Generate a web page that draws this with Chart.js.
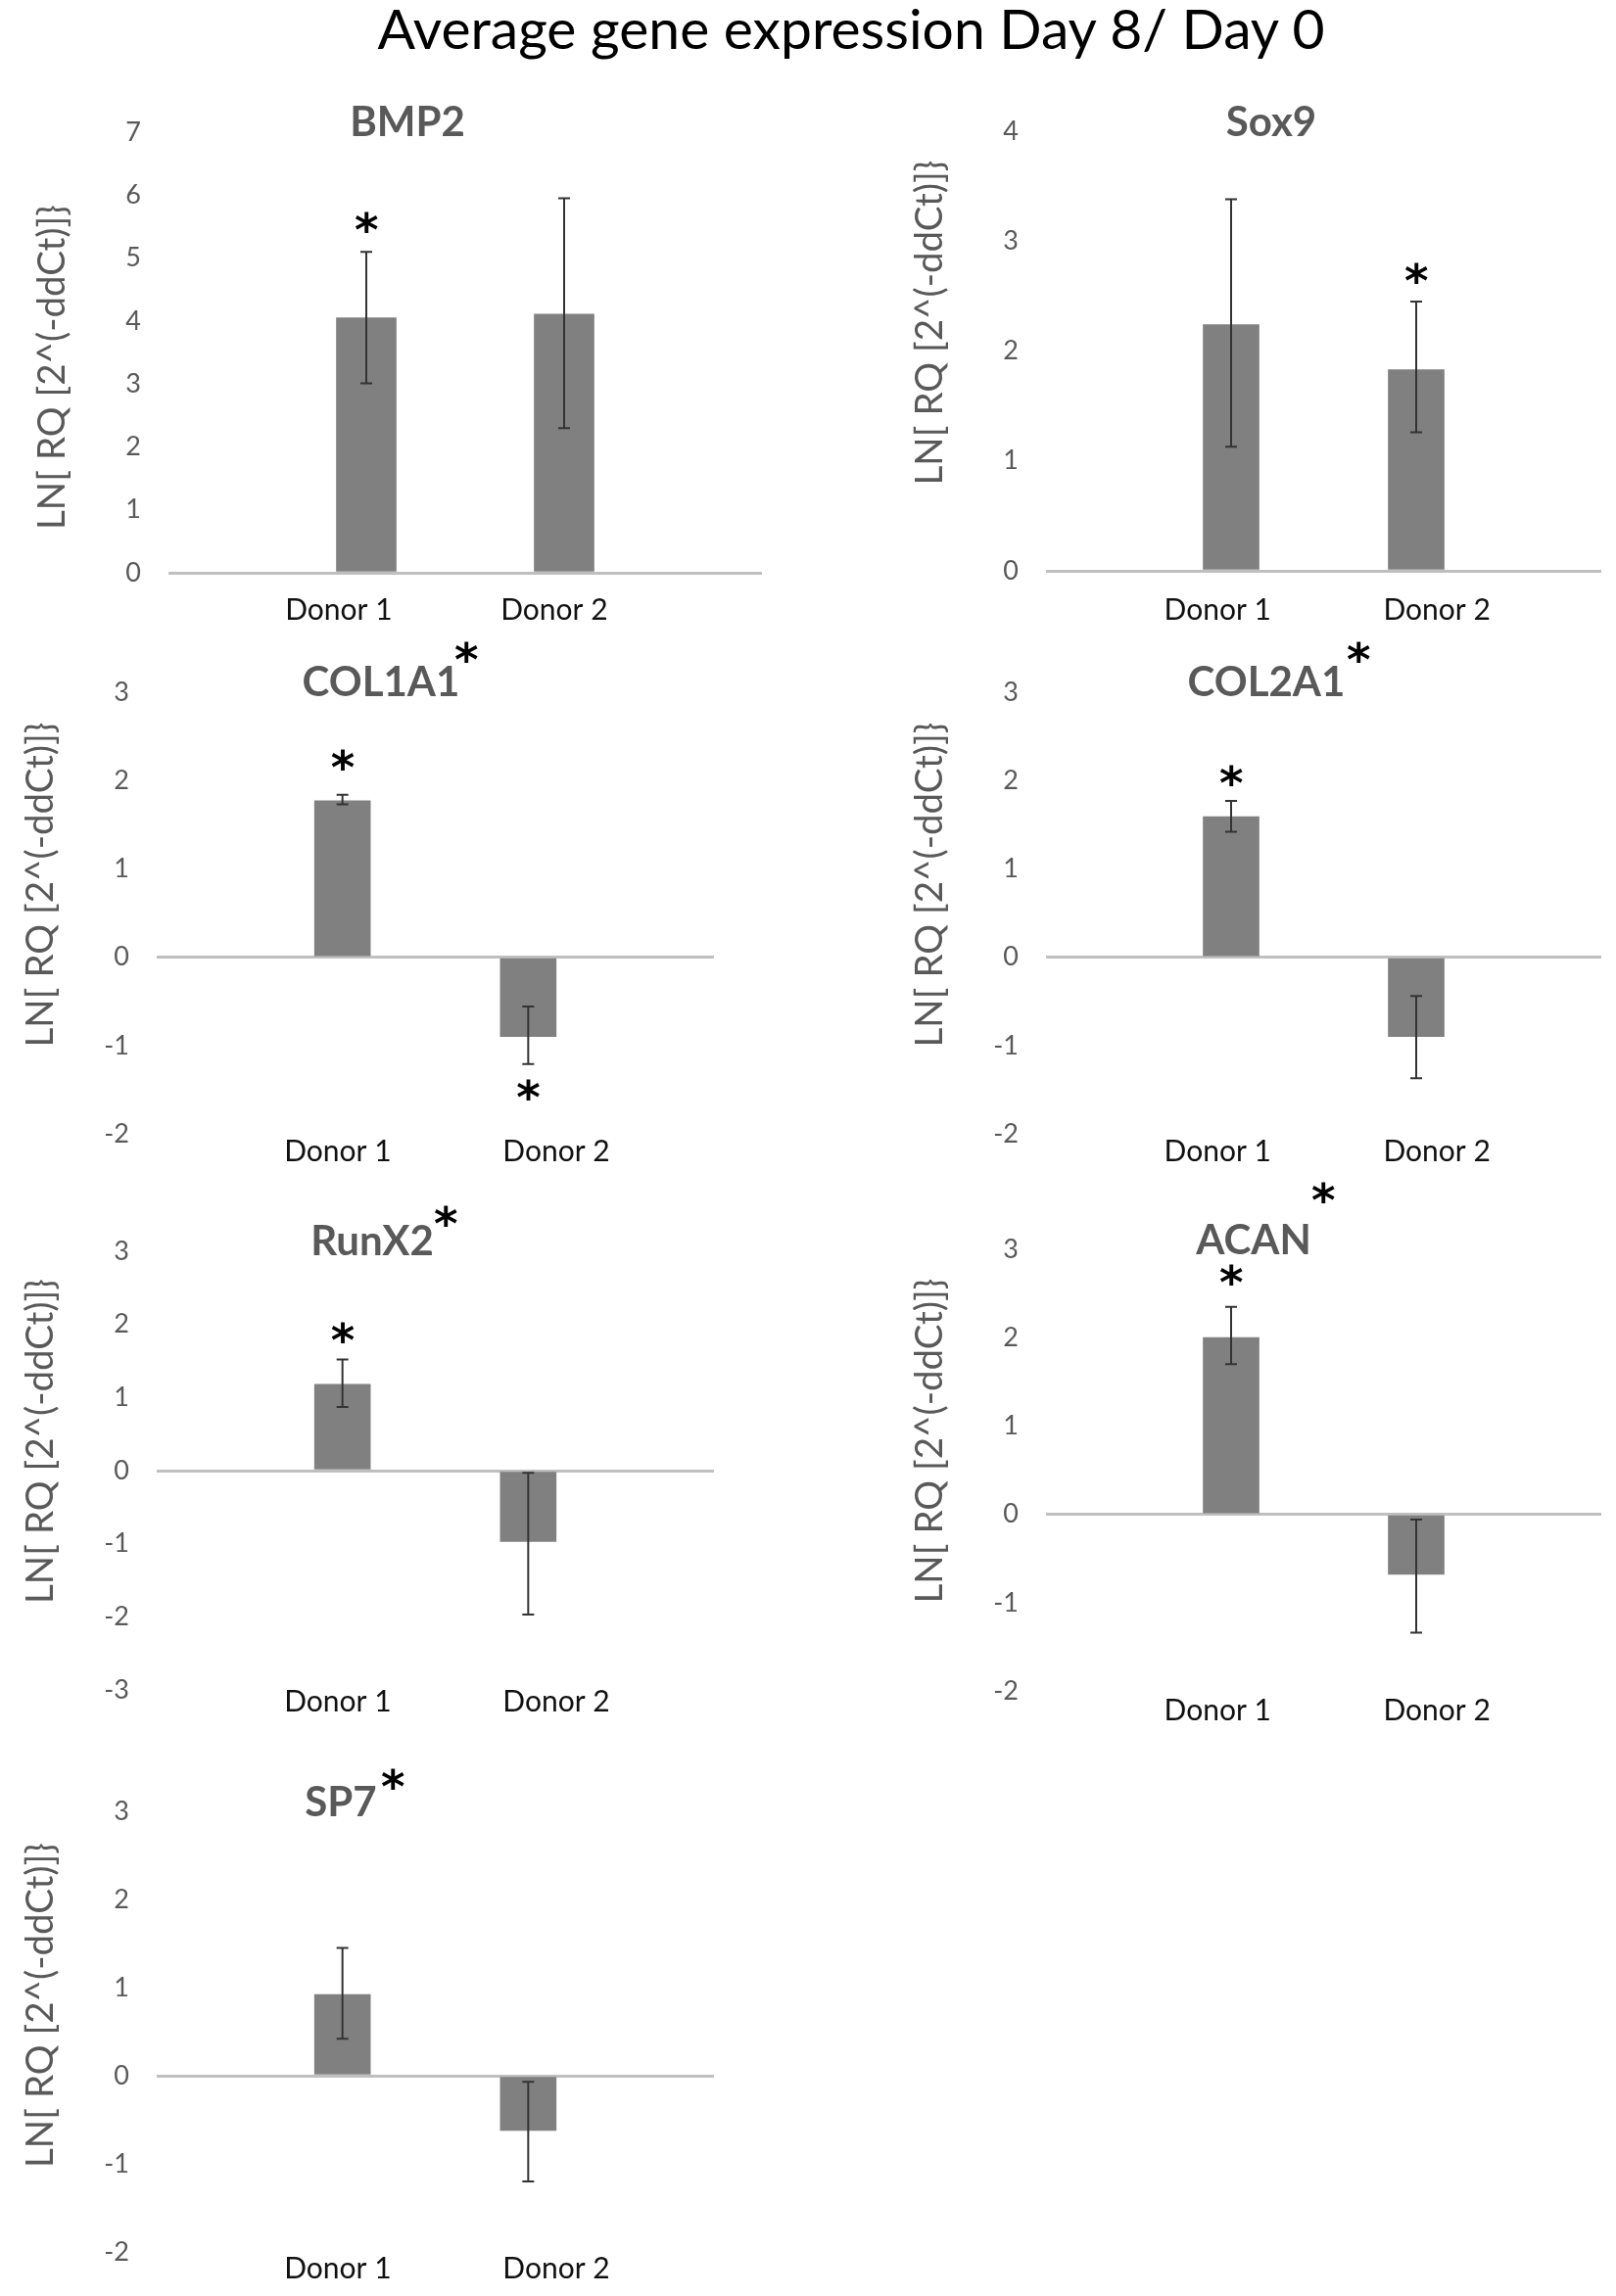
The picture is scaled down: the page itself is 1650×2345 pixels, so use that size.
<!DOCTYPE html>
<html><head><meta charset="utf-8">
<script src="https://cdn.jsdelivr.net/npm/chart.js@4.4.1/dist/chart.umd.min.js"></script>
<style>
html,body{margin:0;padding:0;background:#fff;}
#page{position:relative;width:1650px;height:2345px;background:#fff;overflow:hidden;}
#mainTitle{position:absolute;left:0;top:0px;width:1738px;text-align:center;font-family:Lato,sans-serif;font-size:57px;line-height:57px;color:#000;white-space:nowrap;}
.pane{position:absolute;}
</style></head>
<body><div id="page"><div id="mainTitle">Average gene expression Day 8/ Day 0</div></div>
<script>
// ---------- data ----------
const donors = ['Donor 1', 'Donor 2'];
const genes = ['BMP2', 'Sox9', 'COL1A1', 'COL2A1', 'RunX2', 'ACAN', 'SP7'];
const yAxisTitle = 'LN[ RQ [2^(-ddCt)]}';

const bmp2Mean = [4.05, 4.11];
const bmp2Low = [3.01, 2.30];
const bmp2High = [5.10, 5.95];
const bmp2Star = [5.57, null];
const bmp2Range = [0, 7];

const sox9Mean = [2.24, 1.83];
const sox9Low = [1.13, 1.26];
const sox9High = [3.38, 2.45];
const sox9Star = [null, 2.71];
const sox9Range = [0, 4];

const col1a1Mean = [1.77, -0.90];
const col1a1Low = [1.73, -1.21];
const col1a1High = [1.84, -0.56];
const col1a1Star = [2.23, -1.50];
const col1a1Range = [-2, 3];

const col2a1Mean = [1.59, -0.90];
const col2a1Low = [1.42, -1.37];
const col2a1High = [1.77, -0.44];
const col2a1Star = [2.06, null];
const col2a1Range = [-2, 3];

const runx2Mean = [1.18, -0.97];
const runx2Low = [0.87, -1.97];
const runx2High = [1.52, -0.03];
const runx2Star = [1.89, null];
const runx2Range = [-3, 3];

const acanMean = [2.00, -0.68];
const acanLow = [1.70, -1.34];
const acanHigh = [2.35, -0.06];
const acanStar = [2.71, null];
const acanRange = [-2, 3];

const sp7Mean = [0.92, -0.62];
const sp7Low = [0.42, -1.20];
const sp7High = [1.45, -0.07];
const sp7Star = [null, null];
const sp7Range = [-2, 3];

// significance marks next to the gene titles
const titleStar = [false, false, true, true, true, true, true];

// ---------- layout (page pixels) ----------
// plot area L,R,T,B ; gene-title centre offset ; title-star offset ; bar width ;
// category-label fractions along the axis and their distance below the plot ; y-title vertical shift
const layout = [
  {L:172, R:778, T:135, B:585, tdx:244, tdy:-10, sdx:0, sdy:0, bw:61, lf:[0.287, 0.650], ly:38, ytd:15},
  {L:1068, R:1635, T:134, B:583, tdx:230, tdy:-9, sdx:0, sdy:0, bw:57, lf:[0.309, 0.704], ly:40, ytd:-29},
  {L:160, R:729, T:707, B:1158, tdx:229, tdy:-10, sdx:87, sdy:-31, bw:57, lf:[0.325, 0.717], ly:18, ytd:-29},
  {L:1068, R:1635, T:707, B:1158, tdx:225, tdy:-10, sdx:94, sdy:-31, bw:57, lf:[0.309, 0.704], ly:18, ytd:-29},
  {L:160, R:729, T:1278, B:1726, tdx:220, tdy:-10, sdx:75, sdy:-26, bw:57, lf:[0.325, 0.717], ly:12, ytd:-30},
  {L:1068, R:1635, T:1276, B:1727, tdx:212, tdy:-9, sdx:71, sdy:-49, bw:57, lf:[0.309, 0.704], ly:20, ytd:-30},
  {L:160, R:729, T:1850, B:2300, tdx:188, tdy:-9, sdx:53, sdy:-24, bw:57, lf:[0.325, 0.717], ly:17, ytd:-27}
];

const means = [bmp2Mean, sox9Mean, col1a1Mean, col2a1Mean, runx2Mean, acanMean, sp7Mean];
const lows = [bmp2Low, sox9Low, col1a1Low, col2a1Low, runx2Low, acanLow, sp7Low];
const highs = [bmp2High, sox9High, col1a1High, col2a1High, runx2High, acanHigh, sp7High];
const stars = [bmp2Star, sox9Star, col1a1Star, col2a1Star, runx2Star, acanStar, sp7Star];
const ranges = [bmp2Range, sox9Range, col1a1Range, col2a1Range, runx2Range, acanRange, sp7Range];

const FONT = 'Lato, "Open Sans", sans-serif';
const YW = 150, PADT = 80, PADR = 10, PADB = 70;
const YTITLE_LEN = 332, YTITLE_GAP = 118;

function drawStar(ctx, x, y, h) {
  ctx.save();
  ctx.font = 'bold 100px "DejaVu Sans"';
  let m = ctx.measureText('*');
  const gh = m.actualBoundingBoxAscent + m.actualBoundingBoxDescent;
  const size = 100 * h / gh;
  ctx.font = 'bold ' + size + 'px "DejaVu Sans"';
  m = ctx.measureText('*');
  ctx.fillStyle = '#000';
  ctx.textAlign = 'left';
  ctx.textBaseline = 'alphabetic';
  const w = m.actualBoundingBoxRight + m.actualBoundingBoxLeft;
  const xb = x - w / 2 + m.actualBoundingBoxLeft;
  const yb = y + (m.actualBoundingBoxAscent - m.actualBoundingBoxDescent) / 2;
  ctx.fillText('*', xb, yb);
  ctx.restore();
}

const annotPlugin = {
  id: 'annot',
  afterDatasetsDraw(chart, args, o) {
    const {ctx} = chart;
    const y = chart.scales.y;
    const meta = chart.getDatasetMeta(0);
    ctx.save();
    ctx.strokeStyle = '#333';
    ctx.lineWidth = 2;
    o.low.forEach((lo, i) => {
      const bar = meta.data[i + 1];
      if (!bar || lo == null) return;
      const px = bar.x, cap = 6;
      const y1 = y.getPixelForValue(lo), y2 = y.getPixelForValue(o.high[i]);
      ctx.beginPath();
      ctx.moveTo(px, y1); ctx.lineTo(px, y2);
      ctx.moveTo(px - cap, y1); ctx.lineTo(px + cap, y1);
      ctx.moveTo(px - cap, y2); ctx.lineTo(px + cap, y2);
      ctx.stroke();
    });
    ctx.restore();
    o.star.forEach((s, i) => {
      const bar = meta.data[i + 1];
      if (!bar || s == null) return;
      drawStar(ctx, bar.x, y.getPixelForValue(s), 22);
    });
  },
  afterDraw(chart, args, o) {
    const {ctx, chartArea} = chart;
    const lay = o.lay;
    // gene title
    const tx = chartArea.left + lay.tdx, ty = chartArea.top + lay.tdy;
    ctx.save();
    ctx.font = 'bold 42px ' + FONT;
    ctx.fillStyle = '#595959';
    ctx.textAlign = 'center';
    ctx.textBaseline = 'middle';
    ctx.fillText(o.title, tx, ty);
    ctx.restore();
    if (o.tstar) drawStar(ctx, tx + lay.sdx, ty + lay.sdy, 22);
    // category labels
    ctx.save();
    ctx.font = '30px ' + FONT;
    ctx.fillStyle = '#111';
    ctx.textAlign = 'center';
    ctx.textBaseline = 'middle';
    o.labels.forEach((lab, i) => {
      const lx = chartArea.left + lay.lf[i] * (chartArea.right - chartArea.left);
      ctx.fillText(lab, lx, chartArea.bottom + lay.ly);
    });
    ctx.restore();
    // y axis title
    ctx.save();
    ctx.font = '33px ' + FONT;
    const w33 = ctx.measureText(o.ytitle).width;
    const fs = 33 * YTITLE_LEN / w33;
    ctx.font = fs + 'px ' + FONT;
    ctx.fillStyle = '#595959';
    ctx.textAlign = 'center';
    ctx.textBaseline = 'middle';
    ctx.translate(chartArea.left - YTITLE_GAP, (chartArea.top + chartArea.bottom) / 2 + lay.ytd);
    ctx.rotate(-Math.PI / 2);
    ctx.fillText(o.ytitle, 0, 0);
    ctx.restore();
  }
};

const page = document.getElementById('page');
genes.forEach((g, k) => {
  const lay = layout[k];
  const cx = lay.L - YW, cy = lay.T - PADT;
  const cw = (lay.R - lay.L) + YW + PADR;
  const ch = (lay.B - lay.T) + PADT + PADB;
  const div = document.createElement('div');
  div.className = 'pane';
  div.style.left = cx + 'px'; div.style.top = cy + 'px';
  div.style.width = cw + 'px'; div.style.height = ch + 'px';
  const cv = document.createElement('canvas');
  div.appendChild(cv);
  page.appendChild(div);
  const labels = [''].concat(donors, ['']);
  const data = [null].concat(means[k], [null]);
  new Chart(cv, {
    type: 'bar',
    data: {labels, datasets: [{data, backgroundColor: '#808080', borderWidth: 0, barThickness: lay.bw}]},
    plugins: [annotPlugin],
    options: {
      responsive: true, maintainAspectRatio: false, animation: false,
      devicePixelRatio: 1,
      layout: {padding: {top: PADT, right: PADR, left: 0, bottom: PADB}},
      plugins: {
        legend: {display: false}, tooltip: {enabled: false}, title: {display: false},
        annot: {low: lows[k], high: highs[k], star: stars[k], title: g, tstar: titleStar[k], lay,
                ytitle: yAxisTitle, labels: donors}
      },
      scales: {
        x: {type: 'category', offset: false, display: false},
        y: {
          min: ranges[k][0], max: ranges[k][1],
          grid: {drawTicks: false, lineWidth: 3, color: c => (c.tick && c.tick.value === 0) ? '#bfbfbf' : 'rgba(0,0,0,0)'},
          border: {display: false},
          ticks: {stepSize: 1, color: '#595959', font: {family: FONT, size: 27}, padding: 28},
          afterFit: s => { s.width = YW; }
        }
      }
    }
  });
});
</script></body></html>
